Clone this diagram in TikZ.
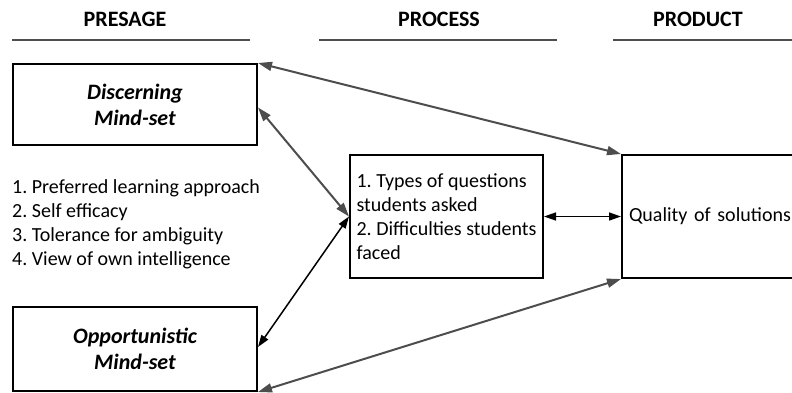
\documentclass[tikz,border=0pt]{standalone}
\usepackage{fontspec}
\setmainfont{Carlito}
\usetikzlibrary{arrows.meta,calc}
\definecolor{linegray}{HTML}{4D4D4D}
\frenchspacing
\begin{document}
\begin{tikzpicture}[x=1bp,y=-1bp,
  body/.style={font=\fontsize{20bp}{24bp}\selectfont},
  heading/.style={font=\fontsize{22bp}{26bp}\selectfont\bfseries, inner sep=0pt},
  rule/.style={draw=linegray, line width=2bp},
  mindbox/.style={draw=black, line width=2bp, minimum width=244bp, align=center,
    inner sep=0pt, font=\fontsize{22bp}{26bp}\selectfont\bfseries\itshape},
  stagebox/.style={draw=black, line width=2bp, minimum height=123bp, inner ysep=0pt,
    align=left, body},
  grayarrow/.style={draw=linegray, line width=2bp,
    {Triangle[length=14bp,width=9bp]}-{Triangle[length=14bp,width=9bp]}},
  blackarrow/.style={draw=black, line width=1.5bp,
    {Triangle[length=12bp,width=8bp]}-{Triangle[length=12bp,width=8bp]}}]
\useasboundingbox (0,0) rectangle (792,392);
\clip (0,0) rectangle (792,392);

% column headings with their rules
\node[heading, anchor=base] (hpre) at (125,26) {PRESAGE};
\node[heading, anchor=base] (hproc) at (439,26) {PROCESS};
\node[heading, anchor=base] (hprod) at (698,26) {PRODUCT};
\coordinate (r1a) at (12,40);  \coordinate (r1b) at (250,40);
\coordinate (r2a) at (319,40); \coordinate (r2b) at (557,40);
\coordinate (r3a) at (613,40); \coordinate (r3b) at (800,40);
\draw[rule] (r1a) -- (r1b);
\draw[rule] (r2a) -- (r2b);
\draw[rule] (r3a) -- (r3b);

% presage: the two mind-sets and their attributes
\node[mindbox, minimum height=81bp] (disc) at (135,104.5) {Discerning\\Mind-set};
\node[mindbox, minimum height=84bp] (opp) at (135,349) {Opportunistic\\Mind-set};
\node[body, align=left, anchor=west, inner sep=0pt] (attr) at (12,224.5)
  {1. Preferred learning approach\\2. Self efficacy\\3. Tolerance for ambiguity\\4. View of own intelligence};

% process and product
\node[stagebox, minimum width=193bp, inner xsep=0pt] (proc) at (446.5,216.5)
  {1. Types of questions\\students asked\\2. Difficulties students\\faced};
\node[stagebox, text width=194bp, inner xsep=7bp] (prod) at (726,216.5)
  {\mbox{Quality of solutions}};

% relations
\draw[grayarrow] (disc.north east) -- (prod.north west);
\draw[grayarrow] ($(disc.east)+(0,3)$) -- (proc.west);
\draw[blackarrow] (proc.west) -- ($(opp.east)+(0,-2)$);
\draw[grayarrow] (opp.south east) -- (prod.south west);
\draw[blackarrow] (proc.east) -- (prod.west);
\end{tikzpicture}
\end{document}
